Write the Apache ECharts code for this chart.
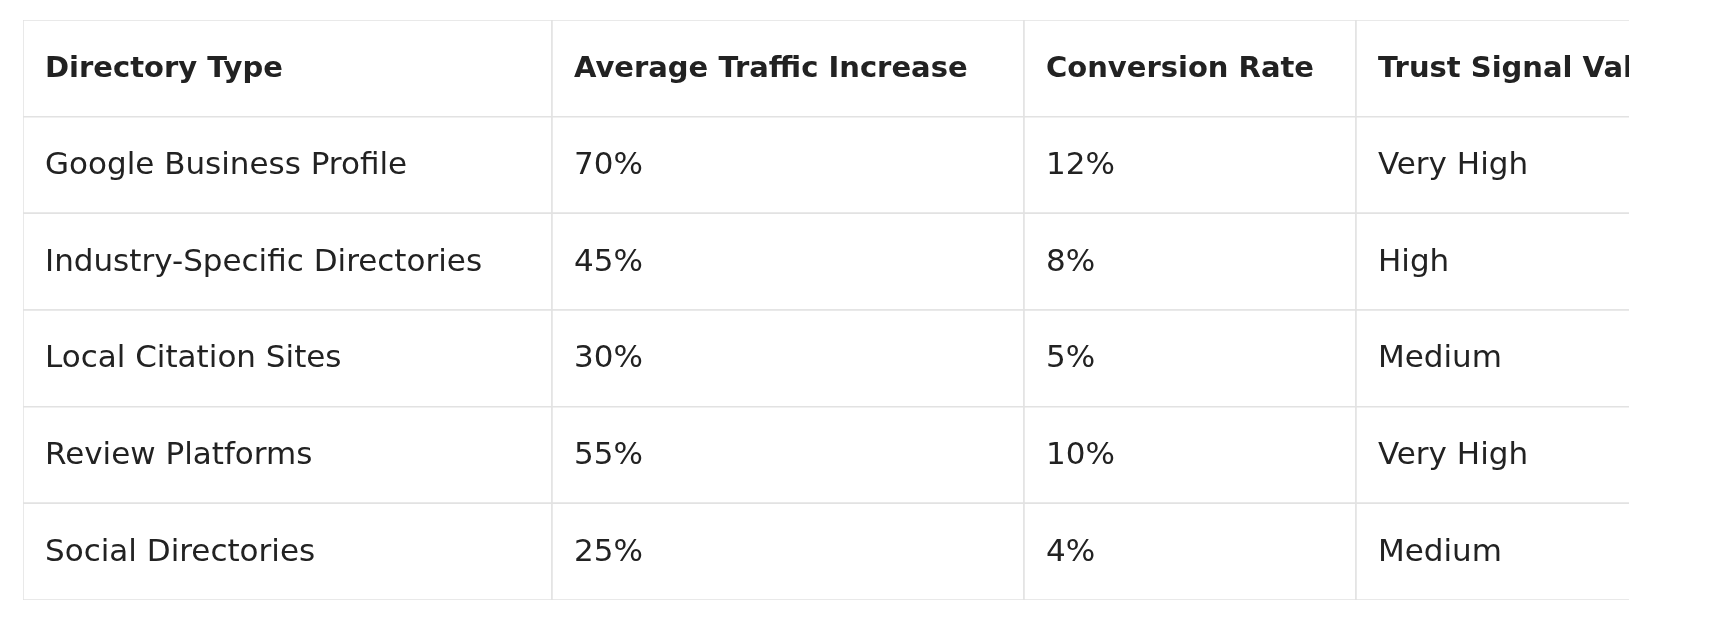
<!DOCTYPE html>
<html>
<head>
<meta charset="UTF-8">
<script src="https://cdn.jsdelivr.net/npm/echarts@6/dist/echarts.min.js"></script>
<style>
  html, body { margin: 0; padding: 0; background: #fff; }
  #main { width: 1716px; height: 630px; }
</style>
</head>
<body>
<div id="main"></div>
<script>
  // table content
  const headers = ['Directory Type', 'Average Traffic Increase', 'Conversion Rate', 'Trust Signal Value'];
  const directoryTypes = ['Google Business Profile', 'Industry-Specific Directories', 'Local Citation Sites', 'Review Platforms', 'Social Directories'];
  const trafficIncrease = ['70%', '45%', '30%', '55%', '25%'];
  const conversionRate = ['12%', '8%', '5%', '10%', '4%'];
  const trustSignal = ['Very High', 'High', 'Medium', 'Very High', 'Medium'];

  // column edges on the x scale (last column runs past the visible area)
  const colEdges = [0, 529, 1001, 1333, 1720];
  const columns = [directoryTypes, trafficIncrease, conversionRate, trustSignal];

  const cells = [];
  headers.forEach((h, c) => cells.push([c, 0, h, 1]));
  columns.forEach((col, c) => col.forEach((v, r) => cells.push([c, r + 1, v, 0])));

  const chart = echarts.init(document.getElementById('main'));
  chart.setOption({
    animation: false,
    grid: { left: 23, right: 87, top: 20, bottom: 30 },
    xAxis: { type: 'value', min: 0, max: 1606, show: false },
    yAxis: { type: 'value', min: 0, max: 6, inverse: true, show: false },
    series: [{
      type: 'custom',
      clip: true,
      data: cells,
      renderItem: function (params, api) {
        const c = api.value(0), r = api.value(1);
        const p0 = api.coord([colEdges[c], r]);
        const p1 = api.coord([colEdges[c + 1], r + 1]);
        const bold = api.value(3) === 1;
        return {
          type: 'group',
          children: [
            {
              type: 'rect',
              shape: { x: p0[0], y: p0[1], width: p1[0] - p0[0], height: p1[1] - p0[1] },
              style: { fill: '#fff', stroke: '#e2e2e2', lineWidth: 1.5 }
            },
            {
              type: 'text',
              x: p0[0] + 22,
              y: (p0[1] + p1[1]) / 2 + 1,
              style: {
                text: cells[params.dataIndex][2],
                fill: '#222',
                font: (bold ? '700 29px ' : '400 31px ') + '"DejaVu Sans", sans-serif',
                verticalAlign: 'middle',
                align: 'left'
              }
            }
          ]
        };
      }
    }]
  });
</script>
</body>
</html>
